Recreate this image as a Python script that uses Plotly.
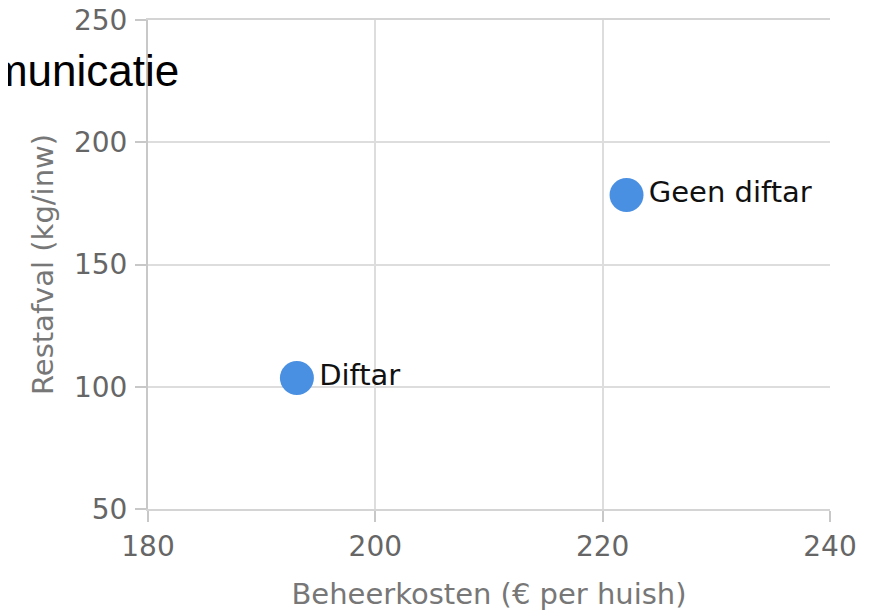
import plotly.graph_objects as go

labels = ["Diftar", "Geen diftar"]
kosten = [193.1, 222.1]
restafval = [103.6, 178.4]
x_ticks = [180, 200, 220, 240]
y_ticks = [50, 100, 150, 200, 250]

fig = go.Figure()
fig.add_trace(go.Scatter(
    x=kosten, y=restafval, mode="markers+text",
    text=labels, textposition="middle right",
    marker=dict(size=34, color="#4a90e2"),
    textfont=dict(family="DejaVu Sans", size=29, color="#111111"),
    cliponaxis=False, showlegend=False,
))

axis_common = dict(
    showgrid=True, gridcolor="#dddddd", gridwidth=1.5,
    showline=True, linewidth=2,
    ticks="outside", ticklen=11, tickcolor="#c8c8c8", tickwidth=1.5,
    tickfont=dict(family="DejaVu Sans", size=28, color="#666666"),
    zeroline=False, ticklabeloverflow="allow",
)
fig.update_xaxes(range=[180, 240], tickvals=x_ticks, ticklabelstandoff=0,
                 linecolor="#d4d4d4", mirror=True,
                 title=dict(text="Beheerkosten (€ per huish)", standoff=22,
                            font=dict(family="DejaVu Sans", size=29, color="#777777")),
                 **axis_common)
fig.update_yaxes(range=[50, 250], tickvals=y_ticks, ticklabelstandoff=2,
                 linecolor="#c8c8c8",
                 title=dict(text="Restafval (kg/inw)", standoff=12,
                            font=dict(family="DejaVu Sans", size=29, color="#777777")),
                 **axis_common)

fig.add_annotation(text="Communicatie", xref="paper", yref="paper",
                   x=(181 - 148) / 682, y=1 - (71 - 20) / 489,
                   xanchor="right", yanchor="middle", showarrow=False,
                   font=dict(family="Liberation Sans", size=44, color="#000000"))

fig.update_layout(width=881, height=612, plot_bgcolor="white", paper_bgcolor="white",
                  margin=dict(l=140, r=59, t=12, b=111, autoexpand=False))
fig.write_html("out.html")
